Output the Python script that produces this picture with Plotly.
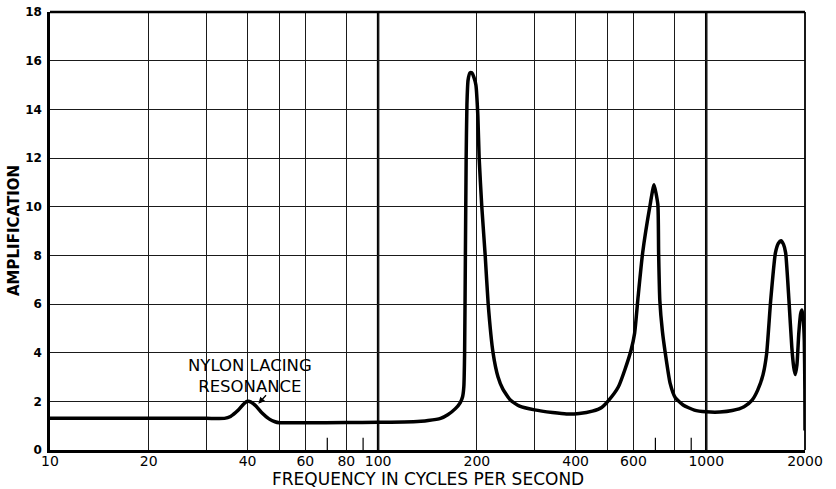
import plotly.graph_objects as go

# ---- data ----
freq = [10, 20, 30, 34, 35.5, 37.5, 39, 40, 41, 42.5, 44.3, 46.5, 48.5, 50,
        60, 80, 100, 120, 135, 142, 155, 163, 172, 178, 181, 182.5, 183.5,
        184.5, 185.5, 186.5, 188, 190.5, 193, 196, 198.6, 201.4, 203.2, 207,
        212, 216.5, 224, 232, 240, 253, 270, 300, 340, 375, 410, 450, 480,
        505, 540, 565, 590, 605, 620, 640, 675, 693, 712, 716, 722, 735, 750,
        776, 805, 850, 920, 1000, 1100, 1200, 1304, 1380, 1435, 1490, 1528,
        1572, 1625, 1660, 1690, 1720, 1746, 1787, 1823, 1848, 1868, 1890,
        1915, 1940, 1958, 1975, 1990, 1998, 2000]
amp = [1.3, 1.3, 1.3, 1.3, 1.38, 1.64, 1.9, 2.0, 1.97, 1.8, 1.52, 1.28, 1.16, 1.12,
       1.12, 1.13, 1.14, 1.15, 1.18, 1.21, 1.3, 1.45, 1.7, 1.95, 2.2, 2.6, 4.0,
       8.0, 12.0, 14.2, 15.2, 15.5, 15.5, 15.3, 15.0, 13.7, 12.0, 10.0,
       8.0, 6.0, 4.0, 3.0, 2.5, 2.05, 1.8, 1.65, 1.54, 1.48, 1.5, 1.6, 1.75,
       2.05, 2.6, 3.3, 4.1, 4.8, 6.3, 8.1, 10.1, 10.9, 10.1, 8.1, 6.15, 4.9, 4.0,
       2.75, 2.15, 1.85, 1.64, 1.57, 1.56, 1.62, 1.78, 2.05, 2.46, 3.1, 3.96,
       6.15, 8.1, 8.5, 8.6, 8.45, 8.1, 6.15, 4.23, 3.4, 3.1, 3.5,
       4.8, 5.6, 5.75, 5.4, 4.5, 2.5, 0.8]

x_grid = [10, 20, 30, 40, 50, 60, 80, 100, 200, 300, 400, 500, 600, 800, 1000, 2000]
x_labels = ['10', '20', '', '40', '', '60', '80', '100', '200', '', '400', '', '600', '', '1000', '2000']
y_grid = [0, 2, 4, 6, 8, 10, 12, 14, 16, 18]
decade_lines = [100, 1000]
short_ticks = [70, 90, 700, 900]

x_title = "FREQUENCY IN CYCLES PER SECOND"
y_title = "AMPLIFICATION"
note_text = "NYLON LACING<br>RESONANCE"

fig = go.Figure()
fig.add_trace(go.Scatter(
    x=freq, y=amp, mode="lines",
    line=dict(color="black", width=3.5, shape="spline", smoothing=0.5),
    showlegend=False, hoverinfo="skip"))

shapes = []
for d in decade_lines:
    shapes.append(dict(type="line", xref="x", yref="paper", x0=d, x1=d, y0=0, y1=1,
                       line=dict(color="black", width=2.5), layer="below"))
for t in short_ticks:
    shapes.append(dict(type="line", xref="x", yref="y", x0=t, x1=t, y0=0, y1=0.5,
                       line=dict(color="black", width=1.2), layer="below"))
# frame: top heavy, right lighter
shapes.append(dict(type="line", xref="paper", yref="paper", x0=0, x1=1, y0=1, y1=1,
                   line=dict(color="black", width=2.5)))
shapes.append(dict(type="line", xref="paper", yref="paper", x0=1, x1=1, y0=0, y1=1,
                   line=dict(color="black", width=1.8)))

fig.update_layout(
    width=836, height=489,
    margin=dict(l=50, r=31, t=12, b=39),
    paper_bgcolor="white", plot_bgcolor="white",
    shapes=shapes,
    xaxis=dict(type="log", range=[1, 3.30103], tickvals=x_grid, ticktext=x_labels,
               showgrid=True, gridcolor="#1a1a1a", gridwidth=1,
               showline=True, linecolor="black", linewidth=2.5,
               ticks="", zeroline=False, automargin=False,
               tickfont=dict(family="DejaVu Sans", size=14, color="black"),
               ticklabelstandoff=-4),
    yaxis=dict(range=[0, 18], tickvals=y_grid,
               showgrid=True, gridcolor="#1a1a1a", gridwidth=1,
               showline=True, linecolor="black", linewidth=2.5,
               ticks="", zeroline=False, automargin=False,
               tickfont=dict(family="DejaVu Sans", size=12, color="black", weight="bold"),
               ticklabelstandoff=3),
    annotations=[
        dict(text=x_title, xref="paper", yref="paper", x=0.5, y=0, yanchor="middle",
             yshift=-29, showarrow=False,
             font=dict(family="DejaVu Sans", size=17, color="black")),
        dict(text=y_title, xref="paper", yref="paper", x=0, y=0.5, xanchor="center",
             xshift=-36, textangle=-90, showarrow=False,
             font=dict(family="DejaVu Sans", size=15, color="black", weight="bold")),
        dict(text=note_text, xref="x", yref="y", x=1.61, y=3.05, showarrow=False,
             font=dict(family="DejaVu Sans", size=16.5, color="black"), align="center"),
        dict(text="", xref="x", yref="y", x=1.635, y=1.9, ax=9, ay=-10,
             showarrow=True, arrowhead=2, arrowsize=1, arrowwidth=1.3, arrowcolor="black"),
    ],
)

fig.write_html("out.html", config={"displayModeBar": False},
               post_script="document.body.style.margin='0px';")
